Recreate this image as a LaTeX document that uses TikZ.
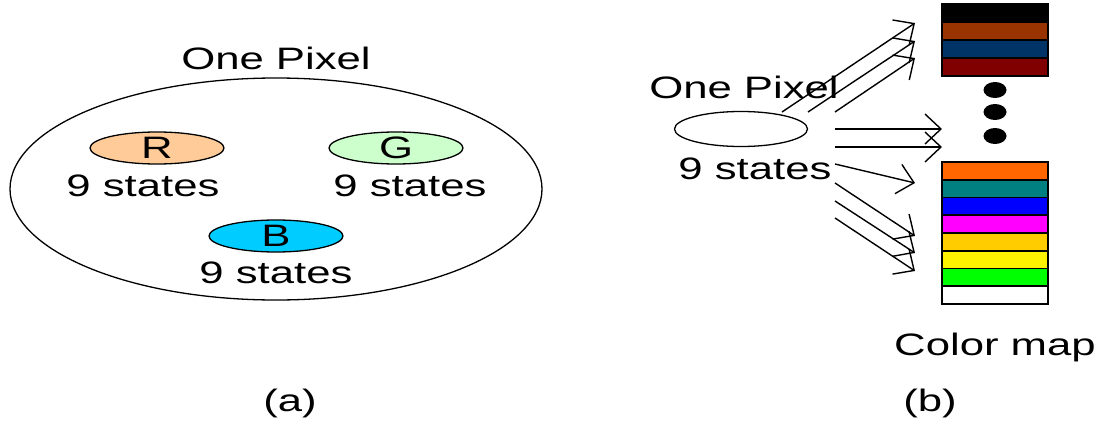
\documentclass[tikz,border=0pt]{standalone}
\usepackage{fontspec}
\setmainfont{Liberation Sans}[FakeStretch=1.41]
\usetikzlibrary{arrows.meta,positioning,shapes.geometric}
\definecolor{peach}{HTML}{FFCC99}
\definecolor{mint}{HTML}{CCFFCC}
\definecolor{sky}{HTML}{00CCFF}
\definecolor{rust}{HTML}{993300}
\definecolor{navy}{HTML}{003366}
\definecolor{maroon}{HTML}{800000}
\definecolor{pumpkin}{HTML}{FF6600}
\definecolor{tealc}{HTML}{008080}
\definecolor{pink}{HTML}{FF00FF}
\definecolor{gold}{HTML}{FFCC00}
\definecolor{lime}{HTML}{00FF00}
\tikzset{
    txt/.style={font=\fontsize{31}{34}\selectfont,inner sep=0pt},
    oval/.style={ellipse,draw,line width=1.3pt,inner sep=0pt,font=\fontsize{31}{34}\selectfont},
    chan/.style={oval,minimum width=134,minimum height=32},
    dot/.style={ellipse,fill,inner sep=0pt,minimum width=23,minimum height=16},
    bar/.style={draw,line width=1.6pt,minimum width=106,inner sep=0pt},
    map/.style={-{Straight Barb[length=16pt,width=30pt]},line width=1.4pt}
}
\begin{document}
\begin{tikzpicture}[x=1pt,y=-1pt]
    \useasboundingbox (0,0) rectangle (1104,423);

    % (a) one pixel made of three channels
    \node[oval,minimum width=532,minimum height=222] (pixel) at (276,189) {};
    \node[txt] (pixel title) at (276,58) {One Pixel};
    \node[chan,fill=peach] (red)   at (157,148) {R};
    \node[chan,fill=mint]  (green) at (396,148) {G};
    \node[chan,fill=sky]   (blue)  at (276,236) {B};
    \node[txt] (red states)   at (143,186) {9 states};
    \node[txt] (green states) at (410,186) {9 states};
    \node[txt] (blue states)  at (276,273) {9 states};
    \node[txt] (cap a) at (290,403) {(a)};

    % (b) one pixel indexing a colour map
    \node[txt] (index title) at (744,87) {One Pixel};
    \node[oval,minimum width=133,minimum height=35] (index) at (741,129) {};
    \node[txt] (index states) at (755,169) {9 states};

    \foreach \c [count=\i] in {black,rust,navy,maroon}
        \node[bar,fill=\c,minimum height=18] (top\i) at (995,{4+(\i-0.5)*18}) {};
    \foreach \c [count=\i] in {pumpkin,tealc,blue,pink,gold,yellow,lime,white}
        \node[bar,fill=\c,minimum height=17.75] (low\i) at (995,{162+(\i-0.5)*17.75}) {};

    \node[dot] (dot1) at (995,90)  {};
    \node[dot] (dot2) at (995,112) {};
    \node[dot] (dot3) at (995,136) {};

    \node[txt] (map label) at (995,347) {Color map};
    \node[txt] (cap b) at (930,403) {(b)};

    % arrows from the pixel to the map entries
    \coordinate (from1) at (782,112);  \coordinate (to1) at (915,23);
    \coordinate (from2) at (808,112);  \coordinate (to2) at (915,41);
    \coordinate (from3) at (835,112);  \coordinate (to3) at (915,58);
    \coordinate (from4) at (835,129);  \coordinate (to4) at (942,129);
    \coordinate (from5) at (835,147);  \coordinate (to5) at (942,147);
    \coordinate (from6) at (835,164);  \coordinate (to6) at (915,183);
    \coordinate (from7) at (835,183);  \coordinate (to7) at (915,236);
    \coordinate (from8) at (835,201);  \coordinate (to8) at (915,253);
    \coordinate (from9) at (835,218);  \coordinate (to9) at (915,271);
    \foreach \i in {1,...,9}
        \draw[map] (from\i) -- (to\i);
\end{tikzpicture}
\end{document}
